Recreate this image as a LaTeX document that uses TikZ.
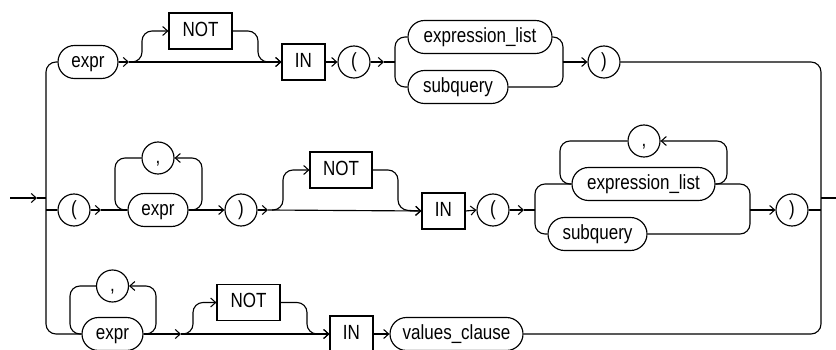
\documentclass[tikz,border=0pt]{standalone}
\usepackage{fontspec}
\setmainfont{Liberation Sans}[FakeStretch=0.83]
\usetikzlibrary{arrows.meta,shapes.misc}
\begin{document}
\begin{tikzpicture}[x=1pt,y=-1pt,
  line width=1.15pt,
  every node/.style={font=\fontsize{20.5}{24}\selectfont, inner sep=0pt, text height=14.5pt, text depth=4pt},
  pill/.style={draw, rounded rectangle, minimum height=33pt},
  kw/.style={draw, rectangle, minimum height=36pt},
  punct/.style={draw, circle, minimum size=32pt},
  arr/.style={-{Straight Barb[length=5pt,width=9pt,line width=1.05pt]}},
  rc/.style={rounded corners=10pt}]
\useasboundingbox (0,0) rectangle (836,350);
\clip (0,0) rectangle (836,350);

% ---------- row 1 ----------
\node[pill, minimum width=60pt] (expr1) at (88,62) {expr};
\node[kw, minimum width=63pt] (not1) at (200.5,31) {NOT};
\node[kw, minimum width=43pt] (in1) at (303.5,62) {IN};
\node[punct] (lp1) at (354,62) {(};
\node[pill, minimum width=144pt] (exl1) at (480,37) {expression\_list};
\node[pill, minimum width=100pt] (sub1) at (458,87) {subquery};
\node[punct] (rp1) at (604,62) {)};

% ---------- row 2 ----------
\node[punct] (lp2) at (74,210) {(};
\node[punct] (comma2) at (158,158) {,};
\node[pill, minimum width=60pt] (expr2) at (158,210) {expr};
\node[punct] (rp2) at (241,210) {)};
\node[kw, minimum width=62pt] (not2) at (341,170) {NOT};
\node[kw, minimum width=43pt] (in2) at (443.5,211) {IN};
\node[punct] (lp3) at (493,210) {(};
\node[punct] (comma3) at (644,141) {,};
\node[pill, minimum width=143pt] (exl2) at (643.5,184) {expression\_list};
\node[pill, minimum width=99pt] (sub2) at (597.5,234) {subquery};
\node[punct] (rp3) at (792,210) {)};

% ---------- row 3 ----------
\node[punct] (comma4) at (112.5,286) {,};
\node[pill, minimum width=61pt] (expr3) at (112.5,334) {expr};
\node[kw, minimum width=63pt] (not3) at (248.5,302.5) {NOT};
\node[kw, minimum width=43pt] (in3) at (351.5,334) {IN};
\node[pill, minimum width=133pt] (vc) at (456.5,334) {values\_clause};

% ---------- coordinates ----------
\coordinate (start) at (10,198);
\coordinate (sa) at (37,198);
\coordinate (sj) at (46,198);
\coordinate (endj) at (821,198);
\coordinate (endp) at (836,198);

% ---------- entry / exit ----------
\draw[arr] (start) -- (sa);
\draw (sa) -- (sj);
\draw[rc] (expr1.west) -| (46,334) -- (expr3.west);
\draw (46,210) -- (lp2.west);
\draw[rc] (rp1.east) -| (821,334) -- (vc.east);
\draw (rp3.east) -- (821,210);
\draw (endj) -- (endp);

% ---------- row 1 connectors ----------
\draw[arr] (expr1.east) -- (129,62);
\draw[arr] (129,62) -- (in1.west);
\draw[arr,rc] (132,62) -| (142,31) -- (not1.west);
\draw[arr,rc] (not1.east) -| (258,62) -- (in1.west);
\draw[arr] (in1.east) -- (lp1.west);
\draw[arr] (lp1.east) -- (384,62);
\draw (384,62) -- (395,62);
\draw[rc] (exl1.west) -| (395,62);
\draw[rc] (sub1.west) -| (395,62);
\draw[rc] (exl1.east) -| (563,62);
\draw[rc] (sub1.east) -| (563,62);
\draw[arr] (563,62) -- (rp1.west);

% ---------- row 2 connectors ----------
\draw[arr] (lp2.east) -- (101,210);
\draw (101,210) -- (expr2.west);
\draw[rc] (comma2.west) -| (115,210) -- (expr2.west);
\draw[arr,rc] (expr2.east) -| (202,158) -- (comma2.east);
\draw[arr] (expr2.east) -- (rp2.west);
\draw[arr] (rp2.east) -- (268,210);
\draw[arr] (268,210) -- (in2.west);
\draw[arr,rc] (272,210) -| (283,170) -- (not2.west);
\draw[arr,rc] (not2.east) -| (398,210) -- (in2.west);
\draw[arr] (in2.east) -- (lp3.west);
\draw[arr] (lp3.east) -- (524,210);
\draw (524,210) -- (535,210);
\draw[rc] (exl2.west) -| (535,210);
\draw[rc] (sub2.west) -| (535,210);
\draw[rc] (comma3.west) -| (560,184) -- (exl2.west);
\draw[arr,rc] (exl2.east) -| (727,141) -- (comma3.east);
\draw[rc] (exl2.east) -| (750,210);
\draw[rc] (sub2.east) -| (750,210);
\draw[arr] (750,210) -- (rp3.west);

% ---------- row 3 connectors ----------
\draw[rc] (comma4.west) -| (70,334) -- (expr3.west);
\draw[arr,rc] (expr3.east) -| (156,286) -- (comma4.east);
\draw[arr] (expr3.east) -- (181,334);
\draw[arr] (181,334) -- (in3.west);
\draw[arr,rc] (183,334) -| (193,302.5) -- (not3.west);
\draw[arr,rc] (not3.east) -| (307,334) -- (in3.west);
\draw[arr] (in3.east) -- (vc.west);
\end{tikzpicture}
\end{document}
